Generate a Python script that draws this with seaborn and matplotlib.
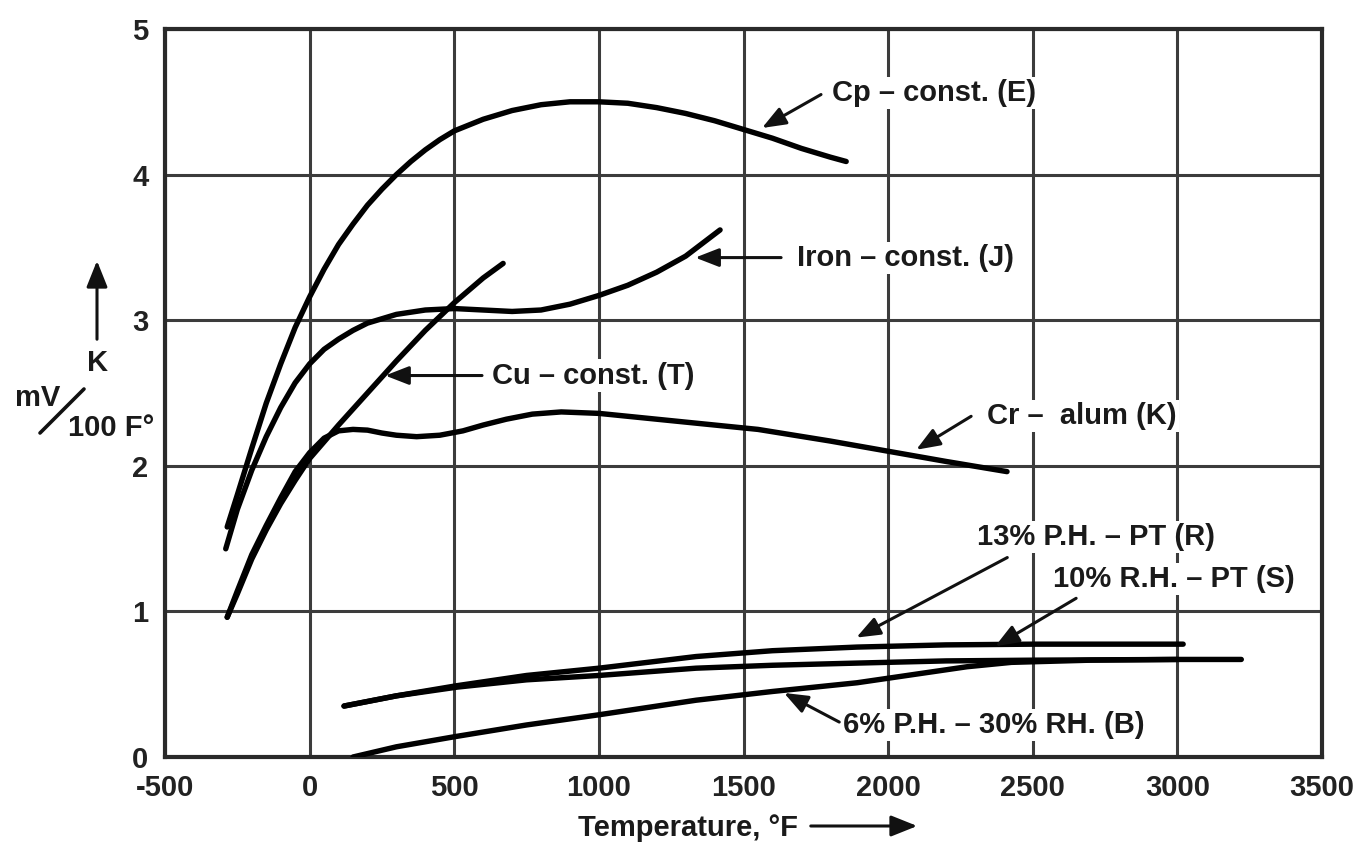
import matplotlib
matplotlib.use("Agg")
import matplotlib.pyplot as plt
import seaborn as sns
import pandas as pd

# ---------------- data ----------------
e_temp = [-285, -250, -200, -150, -100, -50, 0, 50, 100, 150, 200, 250, 300, 350, 400, 450, 500,
          600, 700, 800, 900, 1000, 1100, 1200, 1300, 1400, 1500, 1600, 1700, 1800, 1855]
e_emf = [1.58, 1.80, 2.12, 2.43, 2.70, 2.95, 3.16, 3.35, 3.52, 3.66, 3.79, 3.90, 4.00, 4.09, 4.17, 4.24, 4.30,
         4.38, 4.44, 4.48, 4.50, 4.50, 4.49, 4.46, 4.42, 4.37, 4.31, 4.25, 4.18, 4.12, 4.09]

j_temp = [-290, -250, -200, -150, -100, -50, 0, 50, 100, 150, 200, 300, 400, 500, 600, 700, 800,
          900, 1000, 1100, 1200, 1300, 1419]
j_emf = [1.43, 1.70, 1.97, 2.20, 2.40, 2.57, 2.70, 2.80, 2.87, 2.93, 2.98, 3.04, 3.07, 3.08, 3.07, 3.06, 3.07,
         3.11, 3.17, 3.24, 3.33, 3.44, 3.62]

t_temp = [-285, -250, -200, -150, -100, -50, 0, 100, 200, 300, 400, 500, 600, 669]
t_emf = [0.96, 1.12, 1.36, 1.56, 1.74, 1.90, 2.05, 2.28, 2.50, 2.72, 2.93, 3.12, 3.29, 3.39]

k_temp = [-285, -250, -200, -150, -100, -50, 0, 50, 100, 150, 200, 250, 300, 370, 450, 530, 600,
          680, 770, 870, 1000, 1100, 1250, 1400, 1550, 1800, 2000, 2200, 2411]
k_emf = [0.96, 1.14, 1.39, 1.59, 1.78, 1.96, 2.09, 2.19, 2.24, 2.25, 2.245, 2.225, 2.21, 2.20, 2.21, 2.24, 2.28,
         2.32, 2.355, 2.37, 2.36, 2.34, 2.31, 2.28, 2.25, 2.17, 2.10, 2.03, 1.96]

r_temp = [119, 300, 510, 750, 1000, 1336, 1600, 1893, 2200, 2502, 3020]
r_emf = [0.35, 0.42, 0.49, 0.56, 0.61, 0.69, 0.73, 0.755, 0.77, 0.775, 0.775]

s_temp = [119, 300, 510, 750, 1000, 1336, 1600, 1893, 2200, 2502, 3000]
s_emf = [0.35, 0.42, 0.48, 0.53, 0.56, 0.61, 0.63, 0.645, 0.66, 0.665, 0.67]

b_temp = [150, 300, 503, 750, 1000, 1336, 1600, 1893, 2100, 2273, 2426, 2700, 3000, 3221]
b_emf = [0.00, 0.07, 0.14, 0.22, 0.29, 0.39, 0.45, 0.51, 0.57, 0.62, 0.65, 0.665, 0.67, 0.67]

curve_names = ["E", "J", "T", "K", "R", "S", "B"]

labels = {
    "E": "Cp \u2013 const. (E)",
    "J": "Iron \u2013 const. (J)",
    "T": "Cu \u2013 const. (T)",
    "K": "Cr \u2013  alum (K)",
    "R": "13% P.H. \u2013 PT (R)",
    "S": "10% R.H. \u2013 PT (S)",
    "B": "6% P.H. \u2013 30% RH. (B)",
}
# label position (left, centre) and arrow tail -> head, in data units
label_pos = {"E": (1806, 4.56), "J": (1686, 3.43), "T": (631, 2.62), "K": (2342, 2.34),
             "R": (2308, 1.51), "S": (2571, 1.22), "B": (1844, 0.22)}
arrow_tail = {"E": (1768, 4.55), "J": (1630, 3.43), "T": (596, 2.62), "K": (2287, 2.34),
              "R": (2412, 1.37), "S": (2650, 1.09), "B": (1831, 0.24)}
arrow_head = {"E": (1564, 4.32), "J": (1333, 3.43), "T": (261, 2.62), "K": (2097, 2.11),
              "R": (1890, 0.82), "S": (2370, 0.76), "B": (1640, 0.44)}

x_ticks = [-500, 0, 500, 1000, 1500, 2000, 2500, 3000, 3500]
y_ticks = [0, 1, 2, 3, 4, 5]

# ---------------- build table ----------------
series = {"E": (e_temp, e_emf), "J": (j_temp, j_emf), "T": (t_temp, t_emf), "K": (k_temp, k_emf),
          "R": (r_temp, r_emf), "S": (s_temp, s_emf), "B": (b_temp, b_emf)}
rows = []
for name in curve_names:
    xs, ys = series[name]
    for xv, yv in zip(xs, ys):
        rows.append({"temp": xv, "emf": yv, "curve": name})
df = pd.DataFrame(rows)

# ---------------- figure ----------------
sns.set_style("white")
plt.rcParams["font.family"] = ["Liberation Sans", "DejaVu Sans"]
plt.rcParams["font.weight"] = "bold"
plt.rcParams["axes.unicode_minus"] = False

W, H = 1370, 846
fig = plt.figure(figsize=(W / 100, H / 100), dpi=100)
ax = fig.add_axes([165 / W, 1 - 757 / H, (1322 - 165) / W, (757 - 29) / H])

sns.lineplot(data=df, x="temp", y="emf", hue="curve", units="curve", palette=["black"] * 7,
             estimator=None, sort=False, legend=False, lw=3.9, ax=ax, zorder=3)
for ln in ax.lines:
    ln.set_solid_capstyle("round")
    ln.set_solid_joinstyle("round")

ax.set_xlim(-500, 3500)
ax.set_ylim(0, 5)
ax.set_xticks(x_ticks)
ax.set_yticks(y_ticks)
ax.set_xticklabels([str(v) for v in x_ticks])
ax.set_yticklabels([str(v) for v in y_ticks])
ax.tick_params(axis="both", length=0, labelsize=21, colors="#222222")
ax.tick_params(axis="x", pad=12)
ax.tick_params(axis="y", pad=12)
for lab in ax.get_xticklabels() + ax.get_yticklabels():
    lab.set_fontweight("bold")
ax.grid(True, color="#3c3c3c", lw=2.2)
ax.set_axisbelow(True)
for sp in ax.spines.values():
    sp.set_color("#2a2a2a")
    sp.set_linewidth(3)
ax.set_xlabel("")
ax.set_ylabel("")

# annotations
for name in curve_names:
    lx, ly = label_pos[name]
    ax.text(lx, ly, labels[name], ha="left", va="center", fontsize=21, fontweight="bold",
            color="#1a1a1a", zorder=5,
            bbox=dict(facecolor="white", edgecolor="none", pad=1.5))
    ax.annotate("", xy=arrow_head[name], xytext=arrow_tail[name],
                arrowprops=dict(arrowstyle="-|>,head_length=0.9,head_width=0.35", color="#111111",
                                lw=2.2, mutation_scale=16, shrinkA=0, shrinkB=0), zorder=6)

# x axis label with arrow
def fx(px):
    return px / W

def fy(py):
    return 1 - py / H

fig.text(fx(578), fy(828), "Temperature, \u00b0F", ha="left", va="center", fontsize=21,
         fontweight="bold", color="#1a1a1a")
fig.patches.append(matplotlib.patches.FancyArrowPatch(
    (fx(808), fy(826)), (fx(920), fy(826)), transform=fig.transFigure,
    arrowstyle="-|>,head_length=1.0,head_width=0.4", mutation_scale=16, lw=2.2, color="#111111"))

# y axis label: arrow, K, mV / 100 F°
fig.patches.append(matplotlib.patches.FancyArrowPatch(
    (fx(97), fy(342)), (fx(97), fy(258)), transform=fig.transFigure,
    arrowstyle="-|>,head_length=1.0,head_width=0.4", mutation_scale=16, lw=2.2, color="#111111"))
fig.text(fx(98), fy(363), "K", ha="center", va="center", fontsize=21, fontweight="bold", color="#1a1a1a")
fig.text(fx(38), fy(398), "mV", ha="center", va="center", fontsize=21, fontweight="bold", color="#1a1a1a")
fig.add_artist(matplotlib.lines.Line2D([fx(40), fx(84)], [fy(433), fy(389)], transform=fig.transFigure,
                                       color="#111111", lw=2.6))
fig.text(fx(68), fy(428), "100 F\u00b0", ha="left", va="center", fontsize=21, fontweight="bold",
         color="#1a1a1a")

fig.savefig("out.png", dpi=100, facecolor="white")
